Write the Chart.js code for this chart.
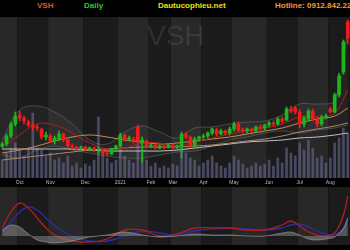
<!DOCTYPE html>
<html>
<head>
<meta charset="utf-8">
<title>VSH Daily</title>
<script src="https://cdn.jsdelivr.net/npm/chart.js@4.4.0/dist/chart.umd.min.js"></script>
<style>
  html, body { margin: 0; padding: 0; background: #000; }
  #wrap { position: relative; width: 350px; height: 250px; overflow: hidden; background: #000; font-family: "Liberation Sans", Arial, sans-serif; }
  .head { position: absolute; top: 1px; font-size: 8px; font-weight: bold; line-height: 9px; white-space: nowrap; }
  #main { position: absolute; left: 0; top: 17px; }
  #macd { position: absolute; left: 0; top: 187px; }
  #mark { position: absolute; left: 147px; top: 22px; font-size: 28px; line-height: 28px; color: rgba(255,255,255,0.09); pointer-events: none; }
</style>
</head>
<body>
<div id="wrap">
  <span class="head" style="left:37px;color:#e8531c">VSH</span>
  <span class="head" style="left:84px;color:#2fc42f">Daily</span>
  <span class="head" style="left:158px;color:#e6e21a">Dautucophieu.net</span>
  <span class="head" style="left:275px;color:#f39a3e">Hotline: 0912.842.224</span>
  <canvas id="main" width="350" height="170"></canvas>
  <canvas id="macd" width="350" height="58"></canvas>
  <div id="mark">VSH</div>
</div>
<script>
// ---------- Data (price in thousand VND) ----------
const tickLabels = ["", "Oct", "Nov", "Dec", "2021", "Feb", "Mar", "Apr", "May", "Jun", "Jul", "Aug"];
const monthCounts = [4, 7, 8, 8, 7, 5, 7, 7, 8, 7, 7, 5]; // candles per month

const opens = [
  16.4, 16.8, 18.4, 20.8, 22.6, 22.0, 21.2, 20.6, 20.2, 19.8,
  18.2, 18.4, 17.4, 17.8, 18.8, 17.6, 16.4, 16.2, 16.0, 16.2,
  15.8, 16.0, 15.6, 15.6, 15.0, 14.8, 15.8, 16.4, 18.6, 17.8,
  17.8, 20.2, 17.0, 17.4, 16.4, 16.6, 16.0, 16.4, 16.2, 16.6,
  16.2, 16.2, 18.8, 18.2, 16.4, 17.8, 18.2, 18.4, 19.0, 19.6,
  18.8, 19.4, 19.0, 19.8, 20.8, 19.6, 19.4, 19.8, 19.4, 20.2,
  20.0, 20.6, 21.0, 20.8, 21.8, 21.6, 23.8, 24.0, 23.2, 20.8,
  21.8, 23.4, 21.6, 20.8, 22.2, 23.8, 23.2, 26.6, 31.2, 41.2
];
const highs = [
  17.2, 18.8, 21.2, 23.2, 23.4, 22.4, 21.6, 21.0, 20.6, 20.0,
  19.2, 18.8, 18.4, 19.4, 19.0, 18.0, 16.8, 16.4, 16.4, 16.4,
  16.2, 16.2, 16.2, 15.8, 15.4, 16.0, 16.6, 19.0, 18.8, 18.4,
  18.2, 20.6, 18.2, 17.6, 17.0, 16.8, 16.6, 16.6, 16.8, 16.8,
  16.6, 19.2, 19.2, 18.4, 18.2, 18.4, 18.8, 19.2, 20.0, 20.0,
  19.8, 19.6, 20.2, 21.2, 21.2, 20.0, 20.0, 20.0, 20.4, 20.6,
  20.8, 21.4, 21.4, 22.2, 22.2, 24.2, 24.4, 24.4, 23.6, 22.4,
  23.8, 23.8, 22.2, 22.6, 22.8, 24.2, 27.0, 31.0, 37.6, 41.6
];
const lows = [
  16.0, 16.4, 18.0, 20.4, 21.4, 20.8, 20.2, 19.6, 19.4, 17.8,
  17.6, 17.0, 16.8, 17.4, 17.2, 16.0, 15.8, 15.6, 15.6, 15.4,
  15.4, 15.2, 15.0, 14.6, 14.4, 14.6, 15.4, 16.2, 17.4, 17.4,
  17.0, 17.0, 13.2, 16.0, 16.0, 15.8, 15.8, 15.8, 16.0, 15.8,
  15.8, 14.0, 17.8, 16.0, 16.0, 17.4, 17.8, 18.0, 18.6, 18.4,
  18.6, 18.6, 18.6, 19.4, 19.2, 19.0, 19.0, 19.0, 19.2, 19.6,
  19.6, 20.2, 20.4, 20.6, 21.0, 21.4, 23.0, 22.8, 20.0, 20.2,
  21.4, 21.4, 20.2, 20.4, 21.8, 23.0, 23.0, 26.2, 30.8, 36.8
];
const closes = [
  16.8, 18.4, 20.8, 22.4, 22.0, 21.4, 20.6, 20.2, 20.0, 18.2,
  18.6, 17.4, 18.0, 18.8, 17.6, 16.4, 16.2, 16.0, 16.2, 15.8,
  16.0, 15.6, 15.8, 15.0, 14.8, 15.8, 16.4, 18.6, 17.8, 18.0,
  17.4, 17.4, 17.6, 16.4, 16.6, 16.0, 16.4, 16.2, 16.6, 16.2,
  16.4, 18.8, 18.2, 16.4, 17.8, 18.2, 18.4, 19.0, 19.8, 18.8,
  19.4, 19.0, 19.8, 20.8, 19.6, 19.4, 19.8, 19.4, 20.2, 20.0,
  20.6, 21.0, 20.8, 21.8, 21.4, 23.8, 23.4, 23.2, 20.8, 22.0,
  23.4, 21.8, 20.8, 22.2, 22.4, 23.2, 26.6, 30.4, 37.2, 38.0
];
const volumes = [ // thousand shares
  180, 250, 300, 350, 280, 220, 300, 650, 300, 280,
  220, 250, 180, 200, 150, 220, 120, 150, 100, 140,
  120, 180, 610, 250, 200, 150, 180, 300, 220, 180,
  150, 400, 280, 180, 120, 150, 100, 120, 100, 140,
  120, 350, 250, 200, 180, 120, 150, 180, 220, 150,
  120, 100, 150, 220, 180, 140, 100, 120, 150, 120,
  140, 180, 120, 200, 150, 300, 250, 220, 350, 280,
  380, 300, 200, 220, 150, 200, 350, 400, 500, 450
];

// moving averages and bands, read every 4th candle
const maIdx = [0, 4, 8, 12, 16, 20, 24, 28, 32, 36, 40, 44, 48, 52, 56, 60, 64, 68, 72, 76, 79];
const ma20 = [16.2, 18.6, 20.8, 20.6, 19.0, 17.0, 15.8, 16.0, 17.0, 17.0, 16.4, 17.2, 18.0, 18.8, 19.6, 20.0, 20.8, 22.2, 22.2, 23.0, 27.6];
const ma50 = [15.0, 15.6, 16.4, 17.4, 18.2, 18.6, 18.2, 17.6, 17.2, 16.8, 17.0, 17.4, 17.8, 18.2, 18.8, 19.4, 20.0, 21.0, 21.8, 22.4, 24.0];
const ma100 = [13.6, 14.0, 14.4, 14.8, 15.2, 15.6, 15.8, 16.0, 16.2, 16.2, 16.2, 16.4, 16.6, 17.0, 17.4, 17.8, 18.4, 19.2, 19.8, 20.4, 21.0];
const ma200 = [15.8, 15.8, 15.8, 15.8, 15.8, 15.6, 15.4, 15.4, 15.4, 15.4, 15.6, 16.0, 16.4, 16.8, 17.2, 17.4, 17.6, 18.0, 18.2, 18.6, 19.0];
const bbUpper = [17.6, 23.6, 24.4, 23.2, 20.8, 17.6, 16.8, 19.2, 20.4, 19.2, 18.0, 20.0, 20.2, 20.8, 21.2, 21.4, 22.6, 24.8, 24.8, 25.6, 39.6];
const bbLower = [14.6, 14.0, 15.6, 16.4, 15.6, 15.0, 14.4, 14.0, 14.0, 14.6, 15.2, 15.4, 16.4, 17.6, 18.2, 19.0, 19.4, 19.0, 19.6, 20.0, 20.6];

// MACD panel
const macdIdx = [0, 2, 4, 6, 8, 10, 12, 16, 20, 24, 28, 32, 36, 40, 44, 48, 52, 56, 60, 64, 66, 68, 70, 72, 74, 76, 78, 79];
const macd = [0.8, 2.4, 3.3, 2.8, 1.8, 0.8, 0.1, -0.5, -0.6, -0.3, 0.6, 0.6, 0, 0.2, 0.8, 0.8, 0.8, 0.6, 0.6, 1.1, 1.5, 1.0, 0.4, 0.1, 0, 0.3, 2.1, 4.0];
const signal = [0.4, 1.4, 2.4, 2.9, 2.6, 1.8, 1.0, 0, -0.5, -0.5, 0, 0.5, 0.3, 0.1, 0.5, 0.7, 0.8, 0.7, 0.6, 0.8, 1.1, 1.2, 0.9, 0.5, 0.2, 0.1, 0.7, 1.8];
const hist = [0.6, 1.1, 0.9, 0.2, -0.4, -0.6, -0.7, -0.5, -0.1, 0.1, 0.4, 0.1, -0.1, 0, 0.2, 0.1, 0.1, 0, 0, 0.3, 0.4, 0.1, -0.3, -0.4, -0.3, -0.1, 0.8, 1.8];

// ---------- Helpers ----------
const N = opens.length;
const labels = [];
monthCounts.forEach((cnt, m) => {
  for (let j = 0; j < cnt; j++) labels.push(j === 0 ? tickLabels[m] : "");
});

const green = "#1cb51c";
const red = "#ee1c1c";
const candleColors = closes.map((c, i) => (c >= opens[i] ? green : red));

function xy(idx, vals) { return idx.map((x, i) => ({ x: x, y: vals[i] })); }

function lineDs(label, idx, vals, color, extra) {
  return Object.assign({
    type: "line", label: label, data: xy(idx, vals), xAxisID: "xl", yAxisID: "y",
    borderColor: color, borderWidth: 1, pointRadius: 0, tension: 0.4, fill: false
  }, extra || {});
}

// hidden linear x axis, one unit per candle (offset off, or bar defaults pad it)
const xlAxis = { type: "linear", min: -0.5, max: 79.5, offset: false, display: false };

// alternating month bands behind everything
const monthBands = {
  id: "monthBands",
  beforeDraw(chart) {
    const { ctx, chartArea: a } = chart;
    const xs = chart.scales.xl;
    let start = 0;
    ctx.save();
    monthCounts.forEach((cnt, m) => {
      const x0 = xs.getPixelForValue(start - 0.5);
      const x1 = xs.getPixelForValue(start + cnt - 0.5);
      ctx.fillStyle = m % 2 === 0 ? "#282828" : "#1b1b1b";
      ctx.fillRect(x0, a.top, x1 - x0, a.bottom - a.top);
      start += cnt;
    });
    ctx.restore();
  }
};

const common = {
  responsive: false,
  animation: false,
  devicePixelRatio: 1,
  layout: { padding: 0 },
  plugins: { legend: { display: false }, tooltip: { enabled: false } }
};

// ---------- Price + volume ----------
new Chart(document.getElementById("main"), {
  type: "bar",
  data: {
    labels: labels,
    datasets: [
      { label: "Volume", data: volumes, yAxisID: "yv", backgroundColor: "rgba(105,105,150,0.6)", barThickness: 2, grouped: false, order: 10 },
      lineDs("BB upper", maIdx, bbUpper, "rgba(150,150,150,0.35)", { fill: "+1", backgroundColor: "rgba(255,255,255,0.035)", order: 9 }),
      lineDs("BB lower", maIdx, bbLower, "rgba(150,150,150,0.35)", { order: 8 }),
      lineDs("MA200", maIdx, ma200, "#c4c4c4", { order: 7 }),
      lineDs("MA100", maIdx, ma100, "#a98a68", { order: 6 }),
      lineDs("MA50", maIdx, ma50, "#d0884a", { order: 5 }),
      lineDs("MA20", maIdx, ma20, "#b51d1d", { order: 4 }),
      { label: "Wick", data: lows.map((l, i) => [l, highs[i]]), yAxisID: "y", backgroundColor: candleColors, barThickness: 1, grouped: false, order: 2 },
      { label: "Body", data: opens.map((o, i) => [o, closes[i]]), yAxisID: "y", backgroundColor: candleColors, barThickness: 3, grouped: false, order: 1 }
    ]
  },
  options: Object.assign({}, common, {
    scales: {
      x: {
        type: "category",
        grid: { display: false, drawTicks: false },
        border: { display: false },
        ticks: {
          autoSkip: false, maxRotation: 0, minRotation: 0, padding: 2,
          color: "#bdbdbd", font: { size: 5, family: "Liberation Sans" }
        },
        afterFit: (s) => { s.height = 9; }
      },
      xl: xlAxis,
      y: { min: 10, max: 42.2, display: false },
      yv: { min: 0, max: 1610, display: false }
    }
  }),
  plugins: [monthBands]
});

// ---------- MACD ----------
new Chart(document.getElementById("macd"), {
  type: "line",
  data: {
    datasets: [
      { label: "Histogram", data: xy(macdIdx, hist), xAxisID: "xl", borderColor: "rgba(180,180,180,0.5)", backgroundColor: "rgba(170,170,170,0.4)", borderWidth: 1, pointRadius: 0, tension: 0.3, fill: "origin" },
      { label: "MACD", data: xy(macdIdx, macd), xAxisID: "xl", borderColor: "#b41e1e", borderWidth: 1.3, pointRadius: 0, tension: 0.4 },
      { label: "Signal", data: xy(macdIdx, signal), xAxisID: "xl", borderColor: "#2c2cb0", borderWidth: 1.3, pointRadius: 0, tension: 0.4 }
    ]
  },
  options: Object.assign({}, common, {
    scales: {
      xl: xlAxis,
      y: {
        min: -0.9, max: 4.9,
        ticks: { display: false, stepSize: 1 },
        border: { display: false },
        grid: { drawTicks: false, color: (c) => (Math.abs(c.tick.value) < 1e-9 ? "#4e4e4e" : "transparent") },
        afterFit: (s) => { s.width = 0; }
      }
    }
  }),
  plugins: [monthBands]
});
</script>
</body>
</html>
